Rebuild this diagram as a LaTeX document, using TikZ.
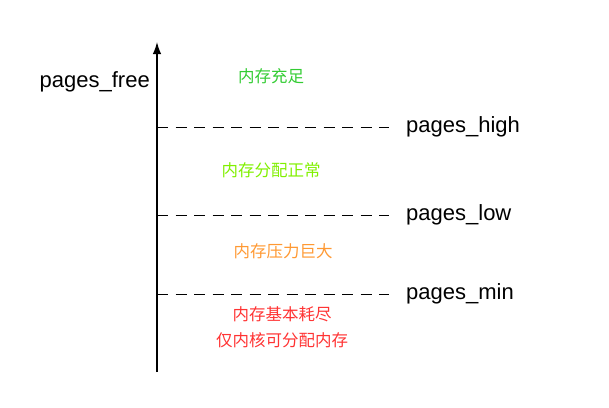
\documentclass[tikz,border=0pt]{standalone}
\usepackage{fontspec}
\setmainfont{Liberation Sans}
\newfontfamily\cjk{Noto Sans CJK SC}
\usetikzlibrary{arrows.meta}
\definecolor{okgreen}{RGB}{51,204,51}
\definecolor{limegreen}{RGB}{128,240,0}
\definecolor{warnorange}{RGB}{255,153,51}
\definecolor{alarmred}{RGB}{255,51,51}
\tikzstyle{levellabel} = [anchor=west, inner sep=0pt, font=\fontsize{22}{26}\selectfont]
\tikzstyle{zonetext} = [inner sep=0pt, align=center, font=\cjk\fontsize{16.5}{26}\selectfont]
\tikzstyle{level} = [draw, dash pattern=on 11pt off 7.5pt, line width=1pt]
\tikzstyle{axis} = [draw, -{Latex[length=12pt,width=8.5pt]}, line width=1.3pt]

\begin{document}
\begin{tikzpicture}[x=1pt, y=-1pt]
    \useasboundingbox (0,0) rectangle (609,407);
    \coordinate (bottom) at (157,372);
    \coordinate (top) at (157,42);
    \node [levellabel, anchor=east] (free) at (150,82) {pages\_free};

    % levels
    \coordinate (high) at (157,127);
    \coordinate (highend) at (389,127);
    \node [levellabel] (highlabel) at (406,127) {pages\_high};
    \coordinate (low) at (157,215);
    \coordinate (lowend) at (389,215);
    \node [levellabel] (lowlabel) at (406,215) {pages\_low};
    \coordinate (min) at (157,294);
    \coordinate (minend) at (389,294);
    \node [levellabel] (minlabel) at (406,294) {pages\_min};

    % zones
    \node [zonetext, text=okgreen] (plenty) at (271,76) {内存充足};
    \node [zonetext, text=limegreen] (normal) at (271,170) {内存分配正常};
    \node [zonetext, text=warnorange] (pressure) at (283,251) {内存压力巨大};
    \node [zonetext, text=alarmred] (exhausted) at (282,327) {内存基本耗尽\\仅内核可分配内存};

    % Draw axis and levels
    \path [axis] (bottom) -- (top);
    \path [level] (high) -- (highend);
    \path [level] (low) -- (lowend);
    \path [level] (min) -- (minend);
\end{tikzpicture}
\end{document}
